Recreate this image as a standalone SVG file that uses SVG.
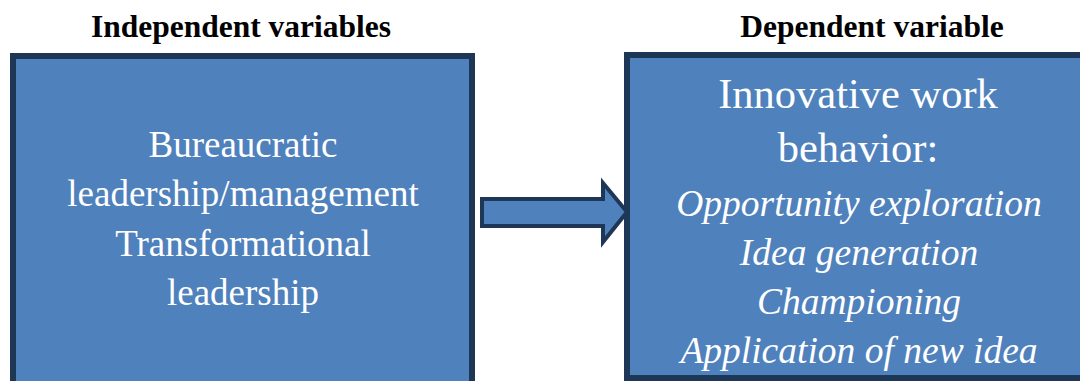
<svg xmlns="http://www.w3.org/2000/svg" width="1080" height="381" viewBox="0 0 1080 381">
<style>
.box{fill:#4F81BD;stroke:#1F3756;stroke-width:6}
.title{font-family:"Liberation Serif",serif;font-weight:bold;font-size:31.5px;fill:#000;text-anchor:middle}
.t{font-family:"Liberation Serif",serif;font-size:37px;fill:#fff;text-anchor:middle}
.tb{font-family:"Liberation Serif",serif;font-size:42.5px;fill:#fff;text-anchor:middle}
.ti{font-family:"Liberation Serif",serif;font-style:italic;font-size:37.5px;fill:#fff;text-anchor:middle}
</style>
<rect width="1080" height="381" fill="#fff"/>
<text class="title" x="241" y="37">Independent variables</text>
<text class="title" x="872" y="37">Dependent variable</text>
<g id="independent">
<rect class="box" x="13" y="56" width="459" height="340"/>
<text class="t" x="243" y="157">Bureaucratic</text>
<text class="t" x="243" y="206">leadership/management</text>
<text class="t" x="243" y="256">Transformational</text>
<text class="t" x="243" y="305">leadership</text>
</g>
<g id="dependent">
<rect class="box" x="627" y="55" width="480" height="323"/>
<text class="tb" x="858" y="108">Innovative work</text>
<text class="tb" x="858" y="162">behavior:</text>
<text class="ti" x="859" y="216">Opportunity exploration</text>
<text class="ti" x="859" y="265">Idea generation</text>
<text class="ti" x="859" y="314">Championing</text>
<text class="ti" x="859" y="363">Application of new idea</text>
</g>
<g id="connectors">
<path d="M482,199 L603,199 L603,183 L627,212 L603,242 L603,226 L482,226 Z" fill="#4F81BD" stroke="#1F3756" stroke-width="4" stroke-linejoin="miter"/>
</g>
</svg>
